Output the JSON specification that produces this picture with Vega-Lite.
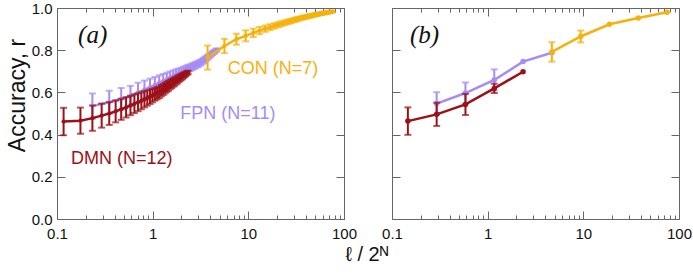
{
"$schema": "https://vega.github.io/schema/vega-lite/v6.json",
"padding": {"left": 6, "top": 1, "right": 0, "bottom": 0},
"background": "white",
"title": {"text": "ℓ / 2ᴺ", "orient": "bottom", "anchor": "middle", "fontSize": 20, "fontWeight": "normal", "font": "Liberation Sans", "color": "#111", "offset": 4, "dx": 18},
"spacing": 24,
"datasets": {
"a": [
{"n":"FPN","x":0.2344,"r":0.535,"e":0.060},{"n":"FPN","x":0.3516,"r":0.553,"e":0.055},{"n":"FPN","x":0.4688,"r":0.569,"e":0.052},{"n":"FPN","x":0.5859,"r":0.583,"e":0.048},{"n":"FPN","x":0.7031,"r":0.600,"e":0.046},{"n":"FPN","x":0.8203,"r":0.613,"e":0.043},{"n":"FPN","x":0.9375,"r":0.625,"e":0.040},{"n":"FPN","x":1.0547,"r":0.636,"e":0.037},{"n":"FPN","x":1.1719,"r":0.646,"e":0.035},{"n":"FPN","x":1.2891,"r":0.655,"e":0.032},{"n":"FPN","x":1.4063,"r":0.663,"e":0.030},{"n":"FPN","x":1.5234,"r":0.671,"e":0.028},{"n":"FPN","x":1.6406,"r":0.678,"e":0.026},{"n":"FPN","x":1.7578,"r":0.685,"e":0.024},{"n":"FPN","x":1.875,"r":0.691,"e":0.022},{"n":"FPN","x":1.9922,"r":0.697,"e":0.020},{"n":"FPN","x":2.1094,"r":0.703,"e":0.019},{"n":"FPN","x":2.2266,"r":0.708,"e":0.018},{"n":"FPN","x":2.3438,"r":0.713,"e":0.017},{"n":"FPN","x":2.4609,"r":0.717,"e":0.016},{"n":"FPN","x":2.5781,"r":0.721,"e":0.016},{"n":"FPN","x":2.6953,"r":0.725,"e":0.015},{"n":"FPN","x":2.8125,"r":0.729,"e":0.015},{"n":"FPN","x":2.9297,"r":0.733,"e":0.014},{"n":"FPN","x":3.0469,"r":0.737,"e":0.014},{"n":"FPN","x":3.1641,"r":0.741,"e":0.013},{"n":"FPN","x":3.2813,"r":0.746,"e":0.013},{"n":"FPN","x":3.3984,"r":0.751,"e":0.012},{"n":"FPN","x":3.5156,"r":0.756,"e":0.012},{"n":"FPN","x":3.6328,"r":0.761,"e":0.011},{"n":"FPN","x":3.75,"r":0.766,"e":0.011},{"n":"FPN","x":3.8672,"r":0.771,"e":0.010},{"n":"FPN","x":3.9844,"r":0.776,"e":0.010},{"n":"FPN","x":4.1016,"r":0.781,"e":0.009},{"n":"FPN","x":4.2188,"r":0.786,"e":0.009},{"n":"FPN","x":4.3359,"r":0.790,"e":0.008},{"n":"FPN","x":4.4531,"r":0.794,"e":0.008},{"n":"FPN","x":4.5703,"r":0.798,"e":0.007},{"n":"FPN","x":4.6875,"r":0.802,"e":0.007},
{"n":"DMN","x":0.1172,"r":0.462,"e":0.065},{"n":"DMN","x":0.1758,"r":0.466,"e":0.062},{"n":"DMN","x":0.2344,"r":0.478,"e":0.060},{"n":"DMN","x":0.2930,"r":0.490,"e":0.057},{"n":"DMN","x":0.3516,"r":0.500,"e":0.054},{"n":"DMN","x":0.4102,"r":0.510,"e":0.052},{"n":"DMN","x":0.4688,"r":0.520,"e":0.050},{"n":"DMN","x":0.5273,"r":0.529,"e":0.048},{"n":"DMN","x":0.5859,"r":0.538,"e":0.046},{"n":"DMN","x":0.6445,"r":0.546,"e":0.044},{"n":"DMN","x":0.7031,"r":0.553,"e":0.042},{"n":"DMN","x":0.7617,"r":0.560,"e":0.040},{"n":"DMN","x":0.8203,"r":0.567,"e":0.038},{"n":"DMN","x":0.8789,"r":0.573,"e":0.036},{"n":"DMN","x":0.9375,"r":0.579,"e":0.034},{"n":"DMN","x":0.9961,"r":0.585,"e":0.032},{"n":"DMN","x":1.0547,"r":0.591,"e":0.030},{"n":"DMN","x":1.1133,"r":0.596,"e":0.029},{"n":"DMN","x":1.1719,"r":0.601,"e":0.028},{"n":"DMN","x":1.2305,"r":0.608,"e":0.027},{"n":"DMN","x":1.2891,"r":0.614,"e":0.026},{"n":"DMN","x":1.3477,"r":0.620,"e":0.025},{"n":"DMN","x":1.4063,"r":0.626,"e":0.024},{"n":"DMN","x":1.4648,"r":0.631,"e":0.023},{"n":"DMN","x":1.5234,"r":0.637,"e":0.022},{"n":"DMN","x":1.5820,"r":0.642,"e":0.021},{"n":"DMN","x":1.6406,"r":0.647,"e":0.020},{"n":"DMN","x":1.6992,"r":0.651,"e":0.019},{"n":"DMN","x":1.7578,"r":0.656,"e":0.018},{"n":"DMN","x":1.8164,"r":0.660,"e":0.017},{"n":"DMN","x":1.8750,"r":0.665,"e":0.016},{"n":"DMN","x":1.9336,"r":0.669,"e":0.015},{"n":"DMN","x":1.9922,"r":0.673,"e":0.014},{"n":"DMN","x":2.0508,"r":0.677,"e":0.013},{"n":"DMN","x":2.1094,"r":0.681,"e":0.012},{"n":"DMN","x":2.1680,"r":0.684,"e":0.011},{"n":"DMN","x":2.2266,"r":0.688,"e":0.010},{"n":"DMN","x":2.2852,"r":0.692,"e":0.009},{"n":"DMN","x":2.3438,"r":0.695,"e":0.008},
{"n":"CON","x":3.75,"r":0.765,"e":0.057},{"n":"CON","x":5.625,"r":0.820,"e":0.034},{"n":"CON","x":7.5,"r":0.852,"e":0.026},{"n":"CON","x":9.375,"r":0.868,"e":0.026},{"n":"CON","x":11.25,"r":0.882,"e":0.020},{"n":"CON","x":13.125,"r":0.893,"e":0.017},{"n":"CON","x":15,"r":0.902,"e":0.015},{"n":"CON","x":16.875,"r":0.909,"e":0.014},{"n":"CON","x":18.75,"r":0.915,"e":0.013},{"n":"CON","x":20.625,"r":0.921,"e":0.012},{"n":"CON","x":22.5,"r":0.926,"e":0.012},{"n":"CON","x":24.375,"r":0.931,"e":0.011},{"n":"CON","x":26.25,"r":0.935,"e":0.011},{"n":"CON","x":28.125,"r":0.939,"e":0.010},{"n":"CON","x":30,"r":0.943,"e":0.010},{"n":"CON","x":31.875,"r":0.946,"e":0.010},{"n":"CON","x":33.75,"r":0.949,"e":0.009},{"n":"CON","x":35.625,"r":0.952,"e":0.009},{"n":"CON","x":37.5,"r":0.955,"e":0.009},{"n":"CON","x":39.375,"r":0.957,"e":0.008},{"n":"CON","x":41.25,"r":0.959,"e":0.008},{"n":"CON","x":43.125,"r":0.961,"e":0.008},{"n":"CON","x":45,"r":0.963,"e":0.008},{"n":"CON","x":46.875,"r":0.965,"e":0.007},{"n":"CON","x":48.75,"r":0.967,"e":0.007},{"n":"CON","x":50.625,"r":0.968,"e":0.007},{"n":"CON","x":52.5,"r":0.970,"e":0.007},{"n":"CON","x":54.375,"r":0.971,"e":0.006},{"n":"CON","x":56.25,"r":0.973,"e":0.006},{"n":"CON","x":58.125,"r":0.974,"e":0.006},{"n":"CON","x":60,"r":0.975,"e":0.006},{"n":"CON","x":61.875,"r":0.976,"e":0.006},{"n":"CON","x":63.75,"r":0.977,"e":0.005},{"n":"CON","x":65.625,"r":0.978,"e":0.005},{"n":"CON","x":67.5,"r":0.979,"e":0.005},{"n":"CON","x":69.375,"r":0.980,"e":0.005},{"n":"CON","x":71.25,"r":0.981,"e":0.005},{"n":"CON","x":73.125,"r":0.982,"e":0.005},{"n":"CON","x":75,"r":0.983,"e":0.005}
],
"b": [
{"n":"FPN","x":0.293,"r":0.547,"e":0.054},{"n":"FPN","x":0.5859,"r":0.597,"e":0.05},{"n":"FPN","x":1.1719,"r":0.659,"e":0.05},{"n":"FPN","x":2.3438,"r":0.746,"e":0},{"n":"FPN","x":4.6875,"r":0.788,"e":0},
{"n":"DMN","x":0.1465,"r":0.464,"e":0.065},{"n":"DMN","x":0.293,"r":0.496,"e":0.055},{"n":"DMN","x":0.5859,"r":0.543,"e":0.05},{"n":"DMN","x":1.1719,"r":0.619,"e":0.022},{"n":"DMN","x":2.3438,"r":0.698,"e":0},
{"n":"CON","x":4.6875,"r":0.792,"e":0.046},{"n":"CON","x":9.375,"r":0.865,"e":0.028},{"n":"CON","x":18.75,"r":0.923,"e":0},{"n":"CON","x":37.5,"r":0.953,"e":0},{"n":"CON","x":75,"r":0.980,"e":0}
]
},
"hconcat": [
{
"width": 287, "height": 211,
"data": {"name": "a"},
"resolve": {"axis": {"x": "independent", "y": "independent"}},
"layer": [
{"transform": [{"filter": "datum.n == 'FPN'"}],
 "mark": {"type": "line", "color": "#a58cf7", "strokeWidth": 2.5, "point": {"filled": true, "size": 18, "color": "#a58cf7"}},
 "encoding": {
  "x": {"field": "x", "type": "quantitative", "scale": {"type": "log", "domain": [0.1, 100], "nice": false}, "axis": {"orient": "bottom", "values": [0.1, 1, 10, 100], "format": "~g", "tickSize": -8, "labelPadding": 15, "labelFontSize": 15, "labelFlush": false, "labelOverlap": false, "labelBound": false, "title": null, "grid": false}},
  "y": {"field": "r", "type": "quantitative", "scale": {"domain": [0, 1], "nice": false, "zero": false}, "axis": {"orient": "left", "values": [0, 0.2, 0.4, 0.6, 0.8, 1], "format": ".1f", "tickSize": -8, "labelPadding": 13, "labelFontSize": 15, "title": "Accuracy, r", "titleFontSize": 23, "titleFontWeight": "normal", "titlePadding": 2, "titleY": 87, "grid": false}}
 }},
{"transform": [{"filter": "datum.n == 'FPN'"}],
 "mark": {"type": "errorbar", "ticks": true, "size": 7, "thickness": 2, "color": "#a58cf7"},
 "encoding": {"x": {"field": "x", "type": "quantitative", "scale": {"type": "log", "domain": [0.1, 100], "nice": false}, "axis": null}, "y": {"field": "r", "type": "quantitative", "scale": {"domain": [0, 1], "nice": false, "zero": false}, "axis": null}, "yError": {"field": "e"}}},
{"transform": [{"filter": "datum.n == 'DMN'"}],
 "mark": {"type": "line", "color": "#9b1117", "strokeWidth": 2.5, "point": {"filled": true, "size": 18, "color": "#9b1117"}},
 "encoding": {"x": {"field": "x", "type": "quantitative", "scale": {"type": "log", "domain": [0.1, 100], "nice": false}, "axis": null}, "y": {"field": "r", "type": "quantitative", "scale": {"domain": [0, 1], "nice": false, "zero": false}, "axis": null}}},
{"transform": [{"filter": "datum.n == 'DMN'"}],
 "mark": {"type": "errorbar", "ticks": true, "size": 7, "thickness": 2, "color": "#9b1117"},
 "encoding": {"x": {"field": "x", "type": "quantitative", "scale": {"type": "log", "domain": [0.1, 100], "nice": false}, "axis": null}, "y": {"field": "r", "type": "quantitative", "scale": {"domain": [0, 1], "nice": false, "zero": false}, "axis": null}, "yError": {"field": "e"}}},
{"transform": [{"filter": "datum.n == 'CON'"}],
 "mark": {"type": "line", "color": "#f5b20c", "strokeWidth": 2.5, "point": {"filled": true, "size": 18, "color": "#f5b20c"}},
 "encoding": {"x": {"field": "x", "type": "quantitative", "scale": {"type": "log", "domain": [0.1, 100], "nice": false}, "axis": null}, "y": {"field": "r", "type": "quantitative", "scale": {"domain": [0, 1], "nice": false, "zero": false}, "axis": null}}},
{"transform": [{"filter": "datum.n == 'CON'"}],
 "mark": {"type": "errorbar", "ticks": true, "size": 7, "thickness": 2, "color": "#f5b20c"},
 "encoding": {"x": {"field": "x", "type": "quantitative", "scale": {"type": "log", "domain": [0.1, 100], "nice": false}, "axis": null}, "y": {"field": "r", "type": "quantitative", "scale": {"domain": [0, 1], "nice": false, "zero": false}, "axis": null}, "yError": {"field": "e"}}},
{"data": {"values": [{"x": 6.1, "r": 0.71, "t": "CON (N=7)", "n": "CON"}, {"x": 1.94, "r": 0.50, "t": "FPN (N=11)", "n": "FPN"}, {"x": 0.14, "r": 0.286, "t": "DMN (N=12)", "n": "DMN"}]},
 "mark": {"type": "text", "align": "left", "baseline": "middle", "fontSize": 18, "font": "Liberation Sans"},
 "encoding": {"x": {"field": "x", "type": "quantitative", "scale": {"type": "log", "domain": [0.1, 100], "nice": false}, "axis": null}, "y": {"field": "r", "type": "quantitative", "scale": {"domain": [0, 1], "nice": false, "zero": false}, "axis": null}, "text": {"field": "t"}, "color": {"field": "n", "type": "nominal", "scale": {"domain": ["DMN", "FPN", "CON"], "range": ["#9b1117", "#a58cf7", "#f5b20c"]}, "legend": null}}},
{"data": {"values": [{"x": 0.236, "r": 0.87, "t": "(a)"}]},
 "mark": {"type": "text", "align": "center", "baseline": "middle", "fontSize": 25, "font": "Liberation Serif", "fontStyle": "italic", "color": "#111"},
 "encoding": {"x": {"field": "x", "type": "quantitative", "scale": {"type": "log", "domain": [0.1, 100], "nice": false}, "axis": null}, "y": {"field": "r", "type": "quantitative", "scale": {"domain": [0, 1], "nice": false, "zero": false}, "axis": null}, "text": {"field": "t"}}},
{"mark": {"type": "point", "opacity": 0},
 "encoding": {"x": {"field": "x", "type": "quantitative", "scale": {"type": "log", "domain": [0.1, 100], "nice": false}, "axis": {"orient": "bottom", "values": [0.2,0.3,0.4,0.5,0.6,0.7,0.8,0.9,2,3,4,5,6,7,8,9,20,30,40,50,60,70,80,90], "tickSize": -4, "labels": false, "domain": false, "title": null, "grid": false}}, "y": {"field": "r", "type": "quantitative", "scale": {"domain": [0, 1], "nice": false, "zero": false}, "axis": {"orient": "right", "values": [0, 0.2, 0.4, 0.6, 0.8, 1], "tickSize": -8, "labels": false, "title": null, "grid": false}}}},
{"mark": {"type": "point", "opacity": 0},
 "encoding": {"x": {"field": "x", "type": "quantitative", "scale": {"type": "log", "domain": [0.1, 100], "nice": false}, "axis": {"orient": "top", "values": [0.1, 1, 10, 100], "tickSize": -8, "labels": false, "title": null, "grid": false}}, "y": {"field": "r", "type": "quantitative", "scale": {"domain": [0, 1], "nice": false, "zero": false}, "axis": null}}},
{"mark": {"type": "point", "opacity": 0},
 "encoding": {"x": {"field": "x", "type": "quantitative", "scale": {"type": "log", "domain": [0.1, 100], "nice": false}, "axis": {"orient": "top", "values": [0.2,0.3,0.4,0.5,0.6,0.7,0.8,0.9,2,3,4,5,6,7,8,9,20,30,40,50,60,70,80,90], "tickSize": -4, "labels": false, "domain": false, "title": null, "grid": false}}, "y": {"field": "r", "type": "quantitative", "scale": {"domain": [0, 1], "nice": false, "zero": false}, "axis": null}}}
]
},
{
"width": 287, "height": 211,
"data": {"name": "b"},
"resolve": {"axis": {"x": "independent", "y": "independent"}},
"layer": [
{"transform": [{"filter": "datum.n == 'FPN'"}],
 "mark": {"type": "line", "color": "#a58cf7", "strokeWidth": 2.5, "point": {"filled": true, "size": 30, "color": "#a58cf7"}},
 "encoding": {
  "x": {"field": "x", "type": "quantitative", "scale": {"type": "log", "domain": [0.1, 100], "nice": false}, "axis": {"orient": "bottom", "values": [0.1, 1, 10, 100], "format": "~g", "tickSize": -8, "labelPadding": 15, "labelFontSize": 15, "labelFlush": false, "labelOverlap": false, "labelBound": false, "title": null, "grid": false}},
  "y": {"field": "r", "type": "quantitative", "scale": {"domain": [0, 1], "nice": false, "zero": false}, "axis": {"orient": "left", "values": [0, 0.2, 0.4, 0.6, 0.8, 1], "tickSize": -8, "labels": false, "title": null, "grid": false}}
 }},
{"transform": [{"filter": "datum.n == 'FPN' && datum.e > 0"}],
 "mark": {"type": "errorbar", "ticks": true, "size": 7, "thickness": 2, "color": "#a58cf7"},
 "encoding": {"x": {"field": "x", "type": "quantitative", "scale": {"type": "log", "domain": [0.1, 100], "nice": false}, "axis": null}, "y": {"field": "r", "type": "quantitative", "scale": {"domain": [0, 1], "nice": false, "zero": false}, "axis": null}, "yError": {"field": "e"}}},
{"transform": [{"filter": "datum.n == 'DMN'"}],
 "mark": {"type": "line", "color": "#9b1117", "strokeWidth": 2.5, "point": {"filled": true, "size": 30, "color": "#9b1117"}},
 "encoding": {"x": {"field": "x", "type": "quantitative", "scale": {"type": "log", "domain": [0.1, 100], "nice": false}, "axis": null}, "y": {"field": "r", "type": "quantitative", "scale": {"domain": [0, 1], "nice": false, "zero": false}, "axis": null}}},
{"transform": [{"filter": "datum.n == 'DMN' && datum.e > 0"}],
 "mark": {"type": "errorbar", "ticks": true, "size": 7, "thickness": 2, "color": "#9b1117"},
 "encoding": {"x": {"field": "x", "type": "quantitative", "scale": {"type": "log", "domain": [0.1, 100], "nice": false}, "axis": null}, "y": {"field": "r", "type": "quantitative", "scale": {"domain": [0, 1], "nice": false, "zero": false}, "axis": null}, "yError": {"field": "e"}}},
{"transform": [{"filter": "datum.n == 'CON'"}],
 "mark": {"type": "line", "color": "#f5b20c", "strokeWidth": 2.5, "point": {"filled": true, "size": 30, "color": "#f5b20c"}},
 "encoding": {"x": {"field": "x", "type": "quantitative", "scale": {"type": "log", "domain": [0.1, 100], "nice": false}, "axis": null}, "y": {"field": "r", "type": "quantitative", "scale": {"domain": [0, 1], "nice": false, "zero": false}, "axis": null}}},
{"transform": [{"filter": "datum.n == 'CON' && datum.e > 0"}],
 "mark": {"type": "errorbar", "ticks": true, "size": 7, "thickness": 2, "color": "#f5b20c"},
 "encoding": {"x": {"field": "x", "type": "quantitative", "scale": {"type": "log", "domain": [0.1, 100], "nice": false}, "axis": null}, "y": {"field": "r", "type": "quantitative", "scale": {"domain": [0, 1], "nice": false, "zero": false}, "axis": null}, "yError": {"field": "e"}}},
{"data": {"values": [{"x": 0.219, "r": 0.87, "t": "(b)"}]},
 "mark": {"type": "text", "align": "center", "baseline": "middle", "fontSize": 25, "font": "Liberation Serif", "fontStyle": "italic", "color": "#111"},
 "encoding": {"x": {"field": "x", "type": "quantitative", "scale": {"type": "log", "domain": [0.1, 100], "nice": false}, "axis": null}, "y": {"field": "r", "type": "quantitative", "scale": {"domain": [0, 1], "nice": false, "zero": false}, "axis": null}, "text": {"field": "t"}}},
{"mark": {"type": "point", "opacity": 0},
 "encoding": {"x": {"field": "x", "type": "quantitative", "scale": {"type": "log", "domain": [0.1, 100], "nice": false}, "axis": {"orient": "bottom", "values": [0.2,0.3,0.4,0.5,0.6,0.7,0.8,0.9,2,3,4,5,6,7,8,9,20,30,40,50,60,70,80,90], "tickSize": -4, "labels": false, "domain": false, "title": null, "grid": false}}, "y": {"field": "r", "type": "quantitative", "scale": {"domain": [0, 1], "nice": false, "zero": false}, "axis": {"orient": "right", "values": [0, 0.2, 0.4, 0.6, 0.8, 1], "tickSize": -8, "labels": false, "title": null, "grid": false}}}},
{"mark": {"type": "point", "opacity": 0},
 "encoding": {"x": {"field": "x", "type": "quantitative", "scale": {"type": "log", "domain": [0.1, 100], "nice": false}, "axis": {"orient": "top", "values": [0.1, 1, 10, 100], "tickSize": -8, "labels": false, "title": null, "grid": false}}, "y": {"field": "r", "type": "quantitative", "scale": {"domain": [0, 1], "nice": false, "zero": false}, "axis": null}}},
{"mark": {"type": "point", "opacity": 0},
 "encoding": {"x": {"field": "x", "type": "quantitative", "scale": {"type": "log", "domain": [0.1, 100], "nice": false}, "axis": {"orient": "top", "values": [0.2,0.3,0.4,0.5,0.6,0.7,0.8,0.9,2,3,4,5,6,7,8,9,20,30,40,50,60,70,80,90], "tickSize": -4, "labels": false, "domain": false, "title": null, "grid": false}}, "y": {"field": "r", "type": "quantitative", "scale": {"domain": [0, 1], "nice": false, "zero": false}, "axis": null}}}
]
}
],
"config": {
 "view": {"stroke": null},
 "font": "Liberation Sans",
 "axis": {"labelFont": "Liberation Sans", "titleFont": "Liberation Sans", "labelColor": "#111", "titleColor": "#111", "domainColor": "#666", "tickColor": "#666", "domainWidth": 1, "tickWidth": 1}
}
}
